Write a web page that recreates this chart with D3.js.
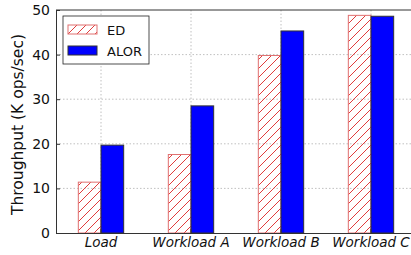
<!DOCTYPE html>
<html>
<head>
<meta charset="utf-8">
<script src="https://cdn.jsdelivr.net/npm/d3@7"></script>
<style>
  body { margin: 0; background: #fff; }
  svg { font-family: "DejaVu Sans", sans-serif; }
</style>
</head>
<body>
<div id="viz"></div>
<script>
const categories = ['Load', 'Workload A', 'Workload B', 'Workload C'];
const seriesNames = ['ED', 'ALOR'];
const edValues = [11.4, 17.6, 39.8, 48.8];
const alorValues = [19.7, 28.5, 45.3, 48.6];
const yTicks = [0, 10, 20, 30, 40, 50];

const width = 411, height = 255;
const margin = {top: 10, right: -5, bottom: 22, left: 56};
const plotW = width - margin.left - margin.right;
const plotH = height - margin.top - margin.bottom;
const hatchColor = '#e03c3c';

let svg = d3.select('#viz')
    .append('svg')
    .attr('width', width)
    .attr('height', height);

// hatch for ED bars
let defs = svg.append('defs');
defs.append('pattern')
    .attr('id', 'hatch')
    .attr('patternUnits', 'userSpaceOnUse')
    .attr('width', 9)
    .attr('height', 9)
  .append('path')
    .attr('d', 'M-2,2 l4,-4 M0,9 l9,-9 M7,11 l4,-4')
    .style('stroke', hatchColor)
    .style('stroke-width', 1)
    .style('fill', 'none');

let g = svg.append('g')
    .attr('transform', `translate(${margin.left},${margin.top})`);

// one slot per category, bars fill the middle half
let xScale = d3.scaleBand()
    .domain(categories)
    .range([0, plotW])
    .paddingInner(0)
    .paddingOuter(0);

let yScale = d3.scaleLinear()
    .domain([0, 50])
    .range([plotH, 0]);

let barW = xScale.bandwidth() * 0.252;

// grid
g.append('g')
    .selectAll('line')
    .data(yTicks.slice(1, -1))
    .enter()
    .append('line')
    .attr('x1', 0).attr('x2', plotW)
    .attr('y1', d => yScale(d)).attr('y2', d => yScale(d))
    .attr('stroke', '#b0b0b0')
    .attr('stroke-width', 0.8)
    .attr('stroke-dasharray', '1.5,2');

g.append('g')
    .selectAll('line')
    .data(categories)
    .enter()
    .append('line')
    .attr('x1', d => xScale(d) + xScale.bandwidth() / 2)
    .attr('x2', d => xScale(d) + xScale.bandwidth() / 2)
    .attr('y1', 0).attr('y2', plotH)
    .attr('stroke', '#b0b0b0')
    .attr('stroke-width', 0.8)
    .attr('stroke-dasharray', '1.5,2');

// ED bars
g.append('g')
    .selectAll('rect')
    .data(edValues)
    .enter()
    .append('rect')
    .attr('x', (d, i) => xScale(categories[i]) + xScale.bandwidth() / 2 - barW)
    .attr('y', d => yScale(d))
    .attr('width', barW)
    .attr('height', d => plotH - yScale(d))
    .attr('fill', 'url(#hatch)')
    .attr('stroke', '#e07070')
    .attr('stroke-width', 1);

// ALOR bars
g.append('g')
    .selectAll('rect')
    .data(alorValues)
    .enter()
    .append('rect')
    .attr('x', (d, i) => xScale(categories[i]) + xScale.bandwidth() / 2)
    .attr('y', d => yScale(d))
    .attr('width', barW)
    .attr('height', d => plotH - yScale(d))
    .attr('fill', '#0000ff')
    .attr('stroke', '#333')
    .attr('stroke-width', 1);

// axes
let yAxis = g.append('g')
    .call(d3.axisLeft(yScale).tickValues(yTicks).tickSizeInner(-4).tickSizeOuter(0).tickPadding(6));
yAxis.select('.domain').attr('stroke', '#333');
yAxis.selectAll('.tick line').attr('stroke', '#333');
yAxis.selectAll('text')
    .attr('font-size', 14)
    .attr('fill', '#111')
    .style('font-family', '"DejaVu Sans", sans-serif');

let xAxis = g.append('g')
    .attr('transform', `translate(0,${plotH})`)
    .call(d3.axisBottom(xScale).tickSizeInner(-4).tickSizeOuter(0).tickPadding(4));
xAxis.select('.domain').attr('stroke', '#333');
xAxis.selectAll('.tick line').attr('stroke', '#333');
xAxis.selectAll('text')
    .attr('font-size', 13.5)
    .attr('font-style', 'italic')
    .attr('fill', '#111')
    .style('font-family', '"DejaVu Sans", sans-serif');

// top spine
g.append('line')
    .attr('x1', 0).attr('x2', plotW)
    .attr('y1', 0).attr('y2', 0)
    .attr('stroke', '#333');

// y label
svg.append('text')
    .attr('transform', `translate(23,${margin.top + plotH / 2 + 3}) rotate(-90)`)
    .attr('text-anchor', 'middle')
    .attr('font-size', 15.5)
    .attr('fill', '#111')
    .text('Throughput (K ops/sec)');

// legend
let legend = g.append('g')
    .attr('transform', 'translate(7,6)');
legend.append('rect')
    .attr('width', 86)
    .attr('height', 48)
    .attr('fill', '#fff')
    .attr('stroke', '#222')
    .attr('stroke-width', 0.8);

let items = legend.selectAll('g')
    .data(seriesNames)
    .enter()
    .append('g')
    .attr('transform', (d, i) => `translate(5,${9 + i * 21})`);
items.append('rect')
    .attr('width', 29)
    .attr('height', 9)
    .attr('fill', (d, i) => i === 0 ? 'url(#hatch)' : '#0000ff')
    .attr('stroke', (d, i) => i === 0 ? '#e07070' : '#333')
    .attr('stroke-width', 1);
items.append('text')
    .attr('x', 39)
    .attr('y', 9.5)
    .attr('font-size', 13)
    .attr('fill', '#111')
    .text(d => d);
</script>
</body>
</html>
